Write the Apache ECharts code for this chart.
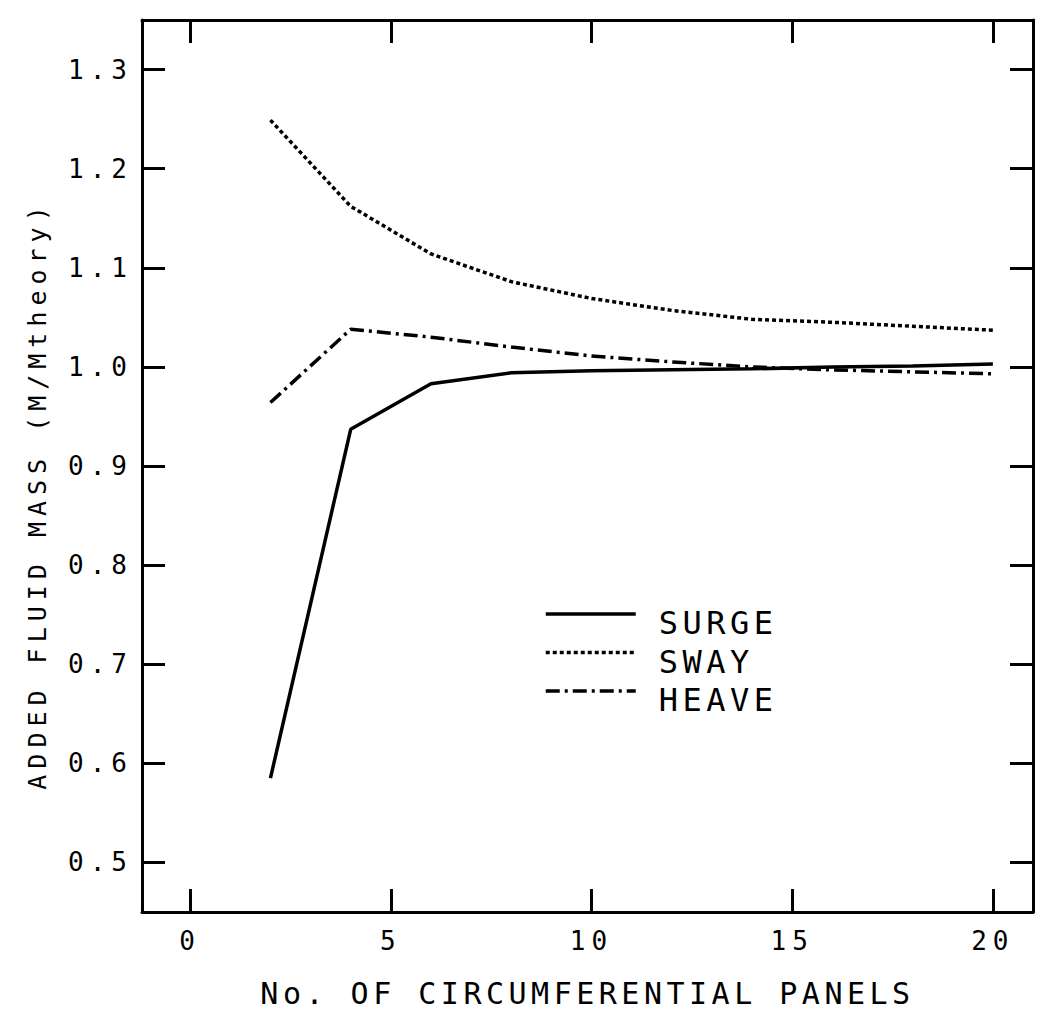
<!DOCTYPE html>
<html>
<head>
<meta charset="utf-8">
<script src="https://cdn.jsdelivr.net/npm/echarts@6/dist/echarts.min.js"></script>
<style>
  html, body { margin: 0; padding: 0; background: #fff; }
  #chart { width: 1043px; height: 1016px; }
</style>
</head>
<body>
<div id="chart"></div>
<script>
const panels = [2, 4, 6, 8, 10, 12, 14, 16, 18, 20]
const surge = [0.585, 0.937, 0.983, 0.994, 0.996, 0.997, 0.998, 1.000, 1.001, 1.003]
const sway = [1.249, 1.162, 1.114, 1.086, 1.069, 1.057, 1.048, 1.045, 1.041, 1.037]
const heave = [0.964, 1.038, 1.030, 1.020, 1.011, 1.005, 1.000, 0.997, 0.995, 0.993]
const xTicks = [0, 5, 10, 15, 20]
const yTicks = [0.5, 0.6, 0.7, 0.8, 0.9, 1.0, 1.1, 1.2, 1.3]

const FONT = 'DejaVu Sans Mono'
const black = '#000'

/* frame axis: only ticks, no labels (used for top / right mirror) */
const tickStyle = { inside: true, length: 23, lineStyle: { color: black, width: 3 } }
const lineStyle = { onZero: false, lineStyle: { color: black, width: 3 } }

const xBase = {
  type: 'value', min: -1.2, max: 21,
  axisLine: lineStyle,
  splitLine: { show: false },
  axisTick: Object.assign({ customValues: xTicks }, tickStyle)
}
const yBase = {
  type: 'value', min: 0.45, max: 1.35,
  axisLine: lineStyle,
  splitLine: { show: false },
  axisTick: Object.assign({ customValues: yTicks }, tickStyle)
}

const pairs = vals => panels.map((p, i) => [p, vals[i]])

const option = {
  backgroundColor: '#fff',
  animation: false,
  grid: { left: 142, right: 10, top: 20, bottom: 104 },
  xAxis: [
    Object.assign({}, xBase, {
      position: 'bottom',
      axisLabel: { customValues: xTicks, margin: 16, color: black, fontFamily: FONT, fontSize: 26 },
      name: 'No. OF CIRCUMFERENTIAL PANELS',
      nameLocation: 'middle',
      nameGap: 66,
      nameTextStyle: { color: black, fontFamily: FONT, fontSize: 30 }
    }),
    Object.assign({}, xBase, { position: 'top', axisLabel: { show: false } })
  ],
  yAxis: [
    Object.assign({}, yBase, {
      position: 'left',
      axisLabel: {
        customValues: yTicks, margin: 9, color: black, fontFamily: FONT, fontSize: 26,
        formatter: v => v.toFixed(1)
      },
      name: 'ADDED FLUID MASS (M/Mtheory)',
      nameLocation: 'middle',
      nameGap: 92,
      nameTextStyle: { color: black, fontFamily: FONT, fontSize: 25, padding: [0, 58, 0, 0] }
    }),
    Object.assign({}, yBase, { position: 'right', axisLabel: { show: false } })
  ],
  legend: {
    orient: 'vertical',
    left: 539,
    top: 584,
    itemWidth: 90,
    itemHeight: 14,
    itemGap: -11.5,
    selectedMode: false,
    itemStyle: { opacity: 0 },
    lineStyle: { width: 3.5 },
    formatter: name => '{t|' + name + '}',
    textStyle: {
      rich: { t: { color: black, fontFamily: FONT, fontSize: 32, lineHeight: 32, padding: [18, 0, 0, 18] } }
    },
    data: ['SURGE', 'SWAY', 'HEAVE']
  },
  series: [
    {
      name: 'SURGE', type: 'line', symbol: 'none',
      itemStyle: { color: black },
      lineStyle: { color: black, width: 3.5, type: 'solid' },
      data: pairs(surge)
    },
    {
      name: 'SWAY', type: 'line', symbol: 'none',
      itemStyle: { color: black },
      lineStyle: { color: black, width: 3.5, type: [4, 3] },
      data: pairs(sway)
    },
    {
      name: 'HEAVE', type: 'line', symbol: 'none',
      itemStyle: { color: black },
      lineStyle: { color: black, width: 3.5, type: [14, 5, 3, 5] },
      data: pairs(heave)
    }
  ]
}

const chart = echarts.init(document.getElementById('chart'), null, { renderer: 'svg' })

// plotter lettering is widely spaced; svg text takes css letter-spacing
function spaceText () {
  document.querySelectorAll('#chart svg text').forEach(t => {
    const size = parseFloat(getComputedStyle(t).fontSize)
    t.style.letterSpacing = size >= 30 ? '4.5px' : '6px'
  })
}
chart.on('finished', spaceText)
chart.setOption(option)
spaceText()
</script>
</body>
</html>
